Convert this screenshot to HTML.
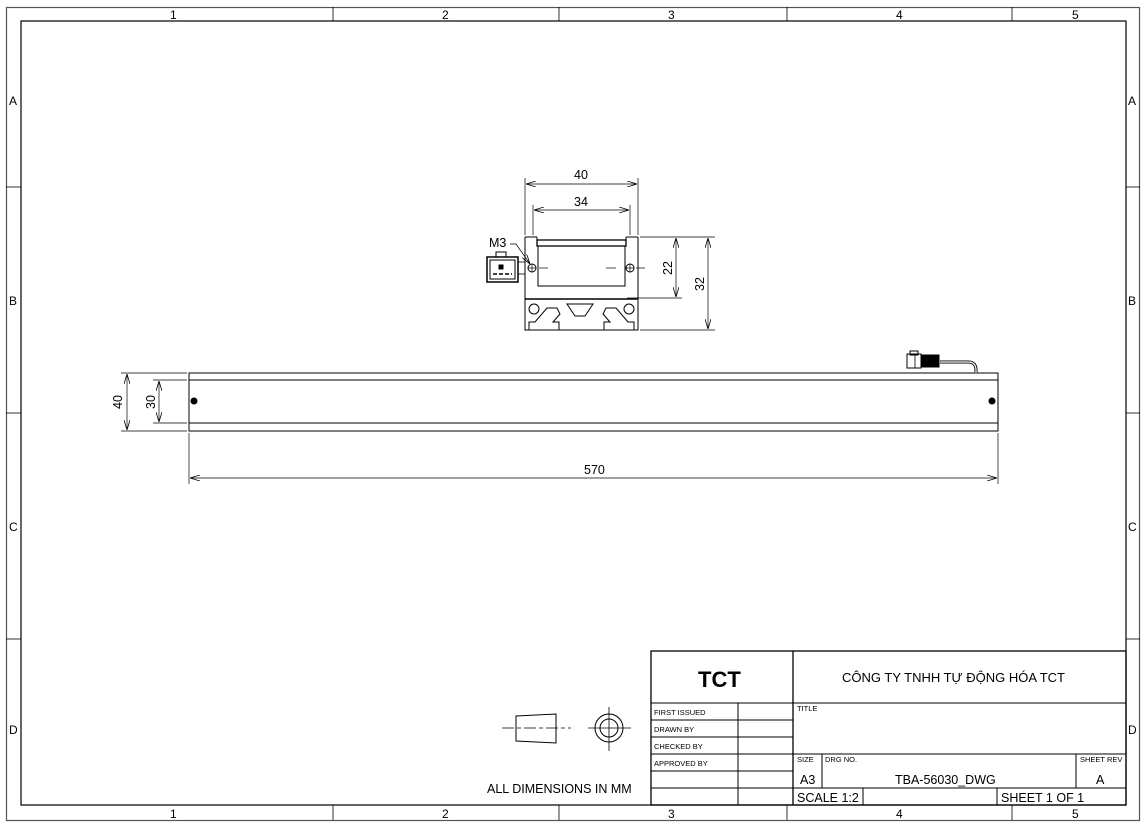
<!DOCTYPE html>
<html><head><meta charset="utf-8"><style>
html,body{margin:0;padding:0;background:#fff;}
svg{display:block;}
text{font-family:"Liberation Sans",Arial,sans-serif;fill:#000;}
</style></head><body>
<svg width="1145" height="828" viewBox="0 0 1145 828" xmlns="http://www.w3.org/2000/svg">
<defs>
<marker id="ar" markerWidth="10" markerHeight="6" refX="10" refY="3" orient="auto-start-reverse" markerUnits="userSpaceOnUse">
<path d="M0,0 L10,3 L0,6" fill="none" stroke="#000" stroke-width="0.8"/></marker>
</defs>
<g fill="none" stroke="#000">
<rect x="6.5" y="7.5" width="1133" height="813" stroke="#555" stroke-width="1.2"/>
<rect x="21" y="21" width="1105" height="784" stroke-width="1.2"/>
<g stroke-width="0.8">
<line x1="333" y1="7" x2="333" y2="21"/><line x1="559" y1="7" x2="559" y2="21"/><line x1="787" y1="7" x2="787" y2="21"/><line x1="1012" y1="7" x2="1012" y2="21"/>
<line x1="333" y1="805" x2="333" y2="820"/><line x1="559" y1="805" x2="559" y2="820"/><line x1="787" y1="805" x2="787" y2="820"/><line x1="1012" y1="805" x2="1012" y2="820"/>
<line x1="6" y1="187" x2="21" y2="187"/><line x1="6" y1="413" x2="21" y2="413"/><line x1="6" y1="639" x2="21" y2="639"/>
<line x1="1126" y1="187" x2="1140" y2="187"/><line x1="1126" y1="413" x2="1140" y2="413"/><line x1="1126" y1="639" x2="1140" y2="639"/>
</g>
<g stroke-width="1">
<rect x="651" y="651" width="475" height="154" stroke-width="1.3"/>
<line x1="793" y1="651" x2="793" y2="805" stroke-width="1.3"/>
<line x1="651" y1="703" x2="1126" y2="703"/>
<line x1="651" y1="720" x2="793" y2="720"/><line x1="651" y1="737" x2="793" y2="737"/><line x1="651" y1="754" x2="1126" y2="754"/>
<line x1="651" y1="771" x2="793" y2="771"/><line x1="651" y1="788" x2="1126" y2="788"/>
<line x1="738" y1="703" x2="738" y2="805"/>
<line x1="822" y1="754" x2="822" y2="788"/><line x1="1076" y1="754" x2="1076" y2="788"/>
<line x1="863" y1="788" x2="863" y2="805"/><line x1="997" y1="788" x2="997" y2="805"/>
</g>
<g stroke-width="1">
<rect x="189" y="373" width="809" height="58"/>
<line x1="189" y1="380" x2="998" y2="380"/>
<line x1="189" y1="423" x2="998" y2="423"/>
</g>
<circle cx="194" cy="401" r="3" fill="#000"/>
<circle cx="992" cy="401" r="3" fill="#000"/>
<path d="M940,362 L968,362 Q976,362 976,370 L976,373" stroke-width="3"/>
<path d="M940,362 L968,362 Q976,362 976,370 L976,373" stroke="#fff" stroke-width="1.2"/>
<rect x="907" y="354" width="14" height="14" stroke-width="1"/>
<rect x="910" y="351" width="8" height="4" stroke-width="1"/>
<rect x="921" y="355" width="18" height="12" fill="#000"/>
<line x1="915" y1="354" x2="915" y2="368" stroke-width="0.8"/>
<g stroke-width="0.7">
<line x1="121" y1="373" x2="187" y2="373"/><line x1="121" y1="431" x2="187" y2="431"/>
<line x1="153" y1="380" x2="187" y2="380"/><line x1="153" y1="423" x2="187" y2="423"/>
<line x1="127" y1="374" x2="127" y2="430" marker-start="url(#ar)" marker-end="url(#ar)"/>
<line x1="159" y1="381" x2="159" y2="422" marker-start="url(#ar)" marker-end="url(#ar)"/>
<line x1="189" y1="433" x2="189" y2="484"/><line x1="998" y1="433" x2="998" y2="484"/>
<line x1="190" y1="478" x2="997" y2="478" marker-start="url(#ar)" marker-end="url(#ar)"/>
</g>
<g stroke-width="1">
<path d="M525,237 L525,330 L638,330 L638,237"/>
<line x1="525" y1="237" x2="537" y2="237"/><line x1="626" y1="237" x2="638" y2="237"/>
<line x1="525" y1="299" x2="638" y2="299" stroke-width="1.4"/>
<rect x="537" y="240" width="89" height="6" stroke-width="1.3"/>
<path d="M538,246 L538,286 L625,286 L625,246"/>
<line x1="537" y1="237" x2="537" y2="240"/><line x1="626" y1="237" x2="626" y2="240"/>
<circle cx="532" cy="268" r="4"/><line x1="528" y1="268" x2="536" y2="268" stroke-width="0.7"/><line x1="532" y1="264" x2="532" y2="272" stroke-width="0.7"/>
<circle cx="630" cy="268" r="4"/><line x1="626" y1="268" x2="634" y2="268" stroke-width="0.7"/><line x1="630" y1="264" x2="630" y2="272" stroke-width="0.7"/>
<line x1="539" y1="268" x2="548" y2="268" stroke-width="0.7"/><line x1="606" y1="268" x2="616" y2="268" stroke-width="0.7"/>
<line x1="636" y1="268" x2="645" y2="268" stroke-width="0.7"/>
<circle cx="534" cy="309" r="5"/><circle cx="629" cy="309" r="5"/>
<path d="M567,304 L593,304 L585,316 L575,316 Z"/>
<path d="M529,330 L529,322 L535,322 L547,308 L557,308 L560,314 L553,322 L559,322 L559,330"/>
<path d="M634,330 L634,322 L628,322 L616,308 L606,308 L603,314 L610,322 L604,322 L604,330"/>
<rect x="487" y="257" width="31" height="25" stroke-width="1.5"/>
<rect x="490" y="260" width="25" height="19" stroke-width="1"/>
<rect x="496" y="252" width="10" height="5" stroke-width="1"/>
<rect x="499" y="265" width="4" height="4" fill="#000"/>
<line x1="493" y1="274" x2="512" y2="274" stroke-dasharray="4,2" stroke-width="1.5"/>
<rect x="518" y="262" width="7" height="12" stroke-width="0.8"/>
</g>
<g stroke-width="0.7">
<line x1="525" y1="178" x2="525" y2="235"/><line x1="638" y1="178" x2="638" y2="235"/>
<line x1="526" y1="184" x2="637" y2="184" marker-start="url(#ar)" marker-end="url(#ar)"/>
<line x1="533" y1="205" x2="533" y2="235"/><line x1="630" y1="205" x2="630" y2="235"/>
<line x1="534" y1="210" x2="629" y2="210" marker-start="url(#ar)" marker-end="url(#ar)"/>
<line x1="640" y1="237" x2="715" y2="237"/>
<line x1="627" y1="298" x2="682" y2="298"/>
<line x1="640" y1="330" x2="715" y2="330"/>
<line x1="676" y1="238" x2="676" y2="297" marker-start="url(#ar)" marker-end="url(#ar)"/>
<line x1="708" y1="238" x2="708" y2="329" marker-start="url(#ar)" marker-end="url(#ar)"/>
<path d="M510,244 L516,244 L530,264" marker-end="url(#ar)"/>
</g>
<g stroke-width="1">
<path d="M516,716 L556,714 L556,743 L516,741 Z"/>
<line x1="502" y1="728" x2="571" y2="728" stroke-width="0.8" stroke-dasharray="12,3,4,3"/>
<circle cx="609" cy="728" r="14"/><circle cx="609" cy="728" r="9"/>
<line x1="588" y1="728" x2="631" y2="728" stroke-width="0.8"/>
<line x1="609" y1="707" x2="609" y2="751" stroke-width="0.8"/>
</g>
</g>
<g font-size="12">
<text x="170" y="19">1</text><text x="442" y="19">2</text><text x="668" y="19">3</text><text x="896" y="19">4</text><text x="1072" y="19">5</text>
<text x="170" y="818">1</text><text x="442" y="818">2</text><text x="668" y="818">3</text><text x="896" y="818">4</text><text x="1072" y="818">5</text>
<text x="9" y="105">A</text><text x="9" y="305">B</text><text x="9" y="531">C</text><text x="9" y="734">D</text>
<text x="1128" y="105">A</text><text x="1128" y="305">B</text><text x="1128" y="531">C</text><text x="1128" y="734">D</text>
</g>
<g font-size="12.5">
<text x="574" y="179">40</text>
<text x="574" y="206">34</text>
<text x="489" y="247">M3</text>
<text x="584" y="474">570</text>
<text transform="translate(672,275) rotate(-90)">22</text>
<text transform="translate(704,291) rotate(-90)">32</text>
<text transform="translate(122,409) rotate(-90)">40</text>
<text transform="translate(155,409) rotate(-90)">30</text>
</g>
<text x="698" y="687" font-size="22" font-weight="bold">TCT</text>
<text x="842" y="682" font-size="13">CÔNG TY TNHH TỰ ĐỘNG HÓA TCT</text>
<g font-size="7.5">
<text x="654" y="715">FIRST ISSUED</text><text x="654" y="732">DRAWN BY</text><text x="654" y="749">CHECKED BY</text><text x="654" y="766">APPROVED BY</text>
<text x="797" y="711">TITLE</text><text x="797" y="762">SIZE</text><text x="825" y="762">DRG NO.</text><text x="1080" y="762">SHEET REV</text>
</g>
<text x="800" y="784" font-size="12.5">A3</text>
<text x="895" y="784" font-size="12.5">TBA-56030_DWG</text>
<text x="1096" y="784" font-size="12.5">A</text>
<text x="797" y="802" font-size="12.5">SCALE 1:2</text>
<text x="1001" y="802" font-size="12.5">SHEET 1 OF 1</text>
<text x="487" y="793" font-size="12.5">ALL DIMENSIONS IN MM</text>
</svg>
</body></html>
